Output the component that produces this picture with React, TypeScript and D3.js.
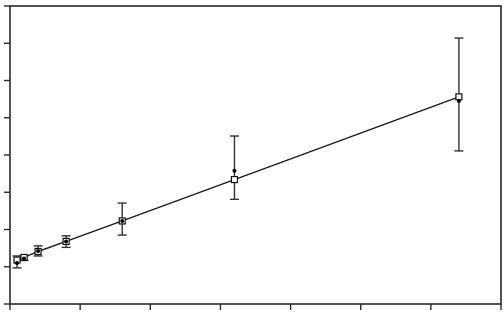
import React from "react";
import * as d3 from "d3";

const xValues = [0.1, 0.2, 0.4, 0.8, 1.6, 3.2, 6.4];
const fitted = [1.18, 1.25, 1.41, 1.68, 2.23, 3.34, 5.56];
const observed = [1.1, 1.22, 1.42, 1.68, 2.23, 3.58, 5.45];
const errLow = [0.97, 1.17, 1.29, 1.52, 1.85, 2.81, 4.11];
const errHigh = [1.29, 1.3, 1.56, 1.83, 2.71, 4.51, 7.14];
const xTicks = [0, 1, 2, 3, 4, 5, 6, 7];
const yTicks = [0, 1, 2, 3, 4, 5, 6, 7, 8];

const W = 504;
const H = 326;
const L = 10, R = 501, T = 6, B = 304;

export default function App() {
  const x = d3.scaleLinear().domain([0, 7]).range([L, R]);
  const y = d3.scaleLinear().domain([0, 8]).range([B, T]);
  const line = d3
    .line<number>()
    .x((_, i) => x(xValues[i]))
    .y((d) => y(d));
  const axisColor = "#2a2a2a";
  return (
    <svg
      width={W}
      height={H}
      style={{ position: "absolute", left: 0, top: 0, background: "#fff" }}
    >
      {xValues.map((xv, i) => {
        const cx = x(xv);
        return (
          <g key={"e" + i} stroke="#333" strokeWidth={1.4}>
            <line x1={cx} x2={cx} y1={y(errLow[i])} y2={y(errHigh[i])} />
            <line x1={cx - 4.5} x2={cx + 4.5} y1={y(errLow[i])} y2={y(errLow[i])} />
            <line x1={cx - 4.5} x2={cx + 4.5} y1={y(errHigh[i])} y2={y(errHigh[i])} />
          </g>
        );
      })}
      <path d={line(fitted) || ""} fill="none" stroke="#1a1a1a" strokeWidth={1.4} />
      {xValues.map((xv, i) => (
        <rect
          key={"s" + i}
          x={x(xv) - 3}
          y={y(fitted[i]) - 3}
          width={6}
          height={6}
          fill="#fff"
          stroke="#111"
          strokeWidth={1.2}
        />
      ))}
      {xValues.map((xv, i) => (
        <circle key={"c" + i} cx={x(xv)} cy={y(observed[i])} r={2} fill="#000" />
      ))}
      <rect x={L} y={T} width={R - L} height={B - T} fill="none" stroke={axisColor} strokeWidth={1.6} />
      {yTicks.map((t) => (
        <line key={"yt" + t} x1={L - 6} x2={L} y1={y(t)} y2={y(t)} stroke={axisColor} strokeWidth={1.4} />
      ))}
      {xTicks.map((t) => (
        <line key={"xt" + t} x1={x(t)} x2={x(t)} y1={B} y2={B + 6} stroke={axisColor} strokeWidth={1.4} />
      ))}
    </svg>
  );
}
